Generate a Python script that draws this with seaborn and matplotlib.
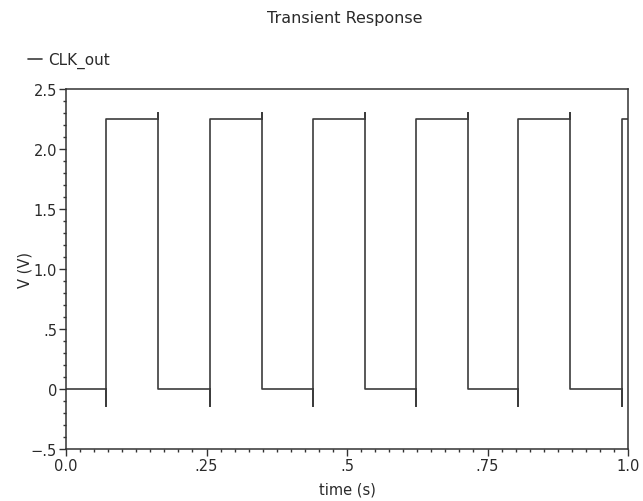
import numpy as np
import pandas as pd
import matplotlib
matplotlib.use("Agg")
import matplotlib.pyplot as plt
from matplotlib.ticker import FixedLocator, FixedFormatter, MultipleLocator
import seaborn as sns

# ---- data ----
series_name = "CLK_out"
rise_times = [0.0712, 0.2556, 0.4395, 0.6228, 0.8048, 0.9893]
fall_times = [0.1630, 0.3480, 0.5320, 0.7153, 0.8974]
v_low = 0.0
v_high = 2.25
v_undershoot = -0.14
v_overshoot = 2.30
t_start, t_end = 0.0, 1.0

x_ticks = [0.0, 0.25, 0.5, 0.75, 1.0]
x_ticklabels = ["0.0", ".25", ".5", ".75", "1.0"]
y_ticks = [-0.5, 0.0, 0.5, 1.0, 1.5, 2.0, 2.5]
y_ticklabels = ["\u2212.5", "0", ".5", "1.0", "1.5", "2.0", "2.5"]

# ---- build waveform path from edges ----
edges = sorted([(t, "r") for t in rise_times] + [(t, "f") for t in fall_times])
ts, vs = [t_start], [v_low]
level = v_low
for t, kind in edges:
    if kind == "r":
        ts += [t, t, t]
        vs += [v_low, v_undershoot, v_high]
        level = v_high
    else:
        ts += [t, t, t]
        vs += [v_high, v_overshoot, v_low]
        level = v_low
ts.append(t_end)
vs.append(level)
df = pd.DataFrame({"time": ts, "V": vs, "signal": series_name})

# ---- figure ----
sns.set_theme(style="white")
plt.rcParams["font.family"] = ["DejaVu Sans"]
W, H = 643, 502
fig = plt.figure(figsize=(W / 100, H / 100), dpi=100)
ax = fig.add_axes([66 / W, 1 - 450 / H, (628 - 66) / W, (450 - 90) / H])

sns.lineplot(data=df, x="time", y="V", sort=False, estimator=None,
             color="#3c3c3c", linewidth=1.2, ax=ax, legend=False, label=series_name)

ax.set_xlim(0, 1.0)
ax.set_ylim(-0.5, 2.5)

ax.xaxis.set_major_locator(FixedLocator(x_ticks))
ax.xaxis.set_major_formatter(FixedFormatter(x_ticklabels))
ax.yaxis.set_major_locator(FixedLocator(y_ticks))
ax.yaxis.set_major_formatter(FixedFormatter(y_ticklabels))
ax.xaxis.set_minor_locator(MultipleLocator(0.025))
ax.yaxis.set_minor_locator(MultipleLocator(0.1))

txt = "#2a2a2a"
ax.tick_params(axis="both", which="major", direction="out", length=5, width=1,
               color="#333333", labelsize=10.5, labelcolor=txt, pad=1.5, bottom=True, left=True)
ax.tick_params(axis="both", which="minor", direction="out", length=2, width=1,
               color="#333333", bottom=True, left=True)

for s in ax.spines.values():
    s.set_visible(True)
    s.set_color("#333333")
    s.set_linewidth(1.1)

ax.set_xlabel("")
ax.set_ylabel("")
fig.text(347 / W, 1 - 490 / H, "time (s)", ha="center", va="center", fontsize=10.5, color=txt)
fig.text(25 / W, 1 - 270 / H, "V (V)", ha="center", va="center", rotation=90, fontsize=10.5, color=txt)
fig.text(345 / W, 1 - 18 / H, "Transient Response", ha="center", va="center", fontsize=11.5, color=txt)

handles, labels = ax.get_legend_handles_labels()
leg = fig.legend(handles, labels, loc="center left", bbox_to_anchor=(28 / W, 1 - 61 / H),
                 frameon=False, fontsize=11, handlelength=0.9, handletextpad=0.4,
                 borderpad=0, borderaxespad=0)
for t in leg.get_texts():
    t.set_color(txt)

fig.savefig("out.png", dpi=100)
